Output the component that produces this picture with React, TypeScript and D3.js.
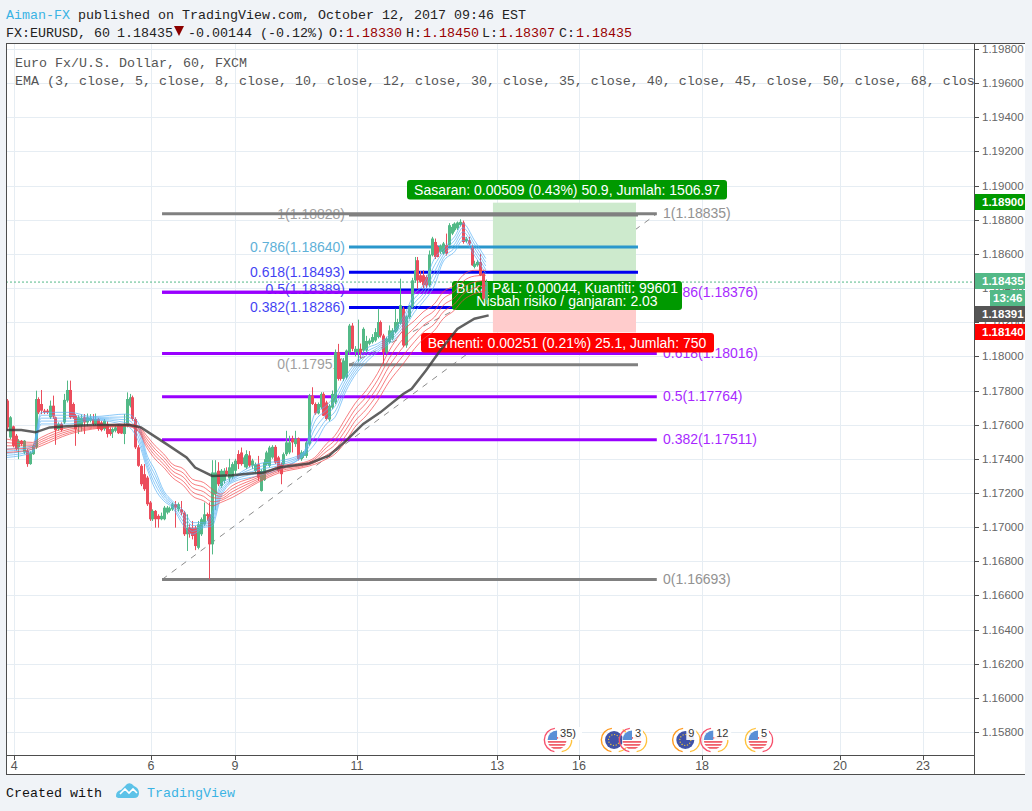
import React from "react";
import * as d3 from "d3";

const W = 1032;
const H = 811;

// prices are kept in points above 1.0 (17600 = 1.17600)
const opens = [17741,17525,17590,17535,17467,17506,17437,17447,17369,17427,17467,17750,17721,17682,17682,17643,17711,17643,17574,17604,17613,17741,17803,17721,17653,17594,17594,17643,17613,17623,17633,17604,17633,17613,17574,17604,17574,17555,17564,17594,17594,17545,17594,17711,17760,17633,17467,17359,17310,17290,17144,17046,17095,17066,17046,17046,17085,17095,17104,17134,17104,17104,17085,16958,16997,16997,16997,16879,16958,17016,17075,17075,16899,17193,17330,17240,17270,17330,17285,17291,17330,17428,17437,17369,17349,17420,17360,17329,17368,17212,17275,17368,17359,17408,17470,17408,17368,17368,17427,17437,17519,17486,17521,17398,17417,17417,17486,17770,17721,17666,17701,17780,17730,17630,17700,17730,18024,17965,17868,17877,18024,18180,18024,18024,18044,18034,18034,18074,18083,18093,18113,18201,18122,18024,18083,18103,18142,18162,18191,18279,18064,18230,18289,18445,18563,18475,18475,18465,18416,18592,18670,18641,18612,18602,18651,18651,18719,18739,18749,18768,18784,18674,18680,18635,18524,18533,18553,18484,18330];
const highs = [17750,17650,17594,17545,17515,17510,17510,17457,17443,17486,17799,17760,17803,17692,17692,17741,17770,17647,17613,17613,17780,17858,17858,17730,17662,17655,17660,17662,17665,17662,17662,17665,17640,17623,17633,17620,17584,17584,17594,17604,17600,17662,17789,17780,17770,17643,17480,17369,17369,17300,17153,17104,17100,17075,17085,17124,17124,17120,17144,17153,17144,17153,17095,17075,17016,17036,17007,17036,17056,17144,17085,17144,17392,17392,17380,17340,17345,17350,17400,17380,17400,17450,17466,17420,17450,17445,17400,17378,17417,17339,17398,17447,17476,17480,17480,17417,17378,17437,17564,17535,17535,17564,17525,17450,17445,17505,17780,17819,17730,17730,17790,17790,17740,17720,17800,18040,18073,17985,17990,18040,18190,18195,18060,18215,18075,18170,18120,18105,18130,18165,18279,18210,18132,18115,18181,18165,18279,18220,18455,18290,18240,18300,18460,18582,18582,18500,18504,18475,18620,18700,18690,18650,18655,18670,18719,18780,18775,18785,18790,18803,18795,18700,18700,18650,18560,18565,18600,18490,18450];
const lows = [17564,17515,17467,17447,17398,17476,17427,17353,17365,17423,17457,17662,17662,17662,17662,17633,17633,17482,17564,17560,17604,17730,17633,17633,17476,17545,17560,17545,17590,17613,17594,17594,17564,17560,17564,17525,17535,17522,17555,17545,17545,17486,17584,17701,17623,17457,17353,17240,17212,17124,17036,17036,16997,16997,17040,17040,17075,17085,17095,16997,17090,17070,16948,16860,16938,16928,16865,16870,16948,17007,17036,16694,16840,17100,17240,17230,17255,17300,17265,17280,17310,17340,17360,17350,17340,17350,17340,17320,17271,17208,17270,17360,17350,17400,17370,17320,17251,17359,17417,17427,17437,17470,17390,17388,17405,17405,17476,17715,17658,17660,17690,17650,17625,17620,17690,17720,17858,17858,17855,17865,18010,18030,18000,17965,17990,18020,18020,18065,18075,18085,18105,18110,17956,18015,18075,18095,18135,18150,18185,18054,18050,18220,18280,18430,18396,18430,18400,18400,18405,18585,18570,18580,18600,18595,18590,18645,18710,18730,18740,18760,18660,18665,18650,18530,18515,18525,18470,18330,18307];
const closes = [17584,17643,17476,17457,17506,17486,17506,17369,17437,17476,17750,17672,17682,17672,17672,17711,17647,17568,17604,17568,17745,17803,17643,17643,17574,17643,17640,17613,17643,17640,17604,17633,17574,17568,17623,17545,17545,17574,17584,17550,17548,17604,17750,17760,17633,17467,17359,17251,17222,17134,17046,17095,17046,17046,17066,17114,17114,17110,17134,17114,17134,17085,16958,16997,16962,16948,16889,17016,17046,17075,17065,16899,17320,17320,17251,17330,17330,17310,17350,17369,17389,17369,17369,17408,17428,17360,17390,17368,17290,17329,17378,17437,17466,17470,17378,17329,17310,17427,17496,17496,17496,17515,17398,17437,17437,17496,17770,17721,17666,17721,17780,17652,17633,17710,17780,18024,17868,17868,17975,18034,18180,18044,18044,18044,18024,18161,18090,18093,18113,18142,18201,18122,18024,18103,18152,18152,18201,18201,18299,18064,18234,18289,18445,18504,18445,18436,18416,18416,18596,18690,18582,18582,18647,18661,18602,18768,18758,18778,18784,18788,18670,18690,18660,18533,18543,18553,18475,18338,18435];

const emaBars = [0,9,12,22,30,42,46,49,52,55,58,62,65,69,72,75,79,88,96,104,108,112,115,119,122,126,130,134,139,143,146,150,153,157,160,164,168];
const blue1 = [17457,17476,17672,17672,17647,17662,17613,17428,17330,17212,17154,17095,17026,17026,17085,17251,17290,17370,17388,17437,17662,17711,17770,17887,17956,18044,18074,18122,18230,18367,18416,18573,18631,18700,18778,18680,18573];
const blue2 = [17445,17466,17655,17655,17642,17645,17586,17408,17303,17197,17144,17073,17009,17018,17065,17231,17282,17352,17375,17432,17618,17684,17738,17865,17938,18024,18061,18110,18210,18340,18391,18533,18611,18678,18753,18658,18551];
const blue3 = [17432,17456,17638,17638,17637,17628,17560,17388,17276,17183,17134,17051,16992,17011,17046,17212,17275,17335,17363,17427,17574,17657,17706,17843,17921,18004,18049,18098,18191,18313,18367,18494,18592,18656,18729,18636,18529];
const blue4 = [17420,17446,17621,17621,17632,17611,17533,17368,17249,17168,17124,17029,16975,17004,17026,17192,17268,17317,17351,17422,17530,17630,17674,17821,17904,17984,18037,18086,18171,18286,18342,18455,18572,18634,18704,18614,18507];
const blue5 = [17408,17437,17604,17604,17627,17594,17506,17349,17222,17154,17115,17007,16958,16997,17007,17173,17261,17300,17339,17417,17486,17603,17642,17799,17887,17965,18025,18074,18152,18260,18318,18416,18553,18612,18680,18592,18485];
const red1 = [17515,17496,17525,17584,17594,17604,17594,17535,17476,17428,17369,17340,17281,17261,17222,17193,17242,17300,17359,17378,17408,17486,17535,17642,17721,17800,17900,18030,18152,18210,18260,18308,18377,18416,18475,18504,18504];
const red2 = [17495,17486,17512,17574,17589,17600,17586,17518,17456,17408,17350,17315,17256,17234,17198,17180,17224,17290,17349,17370,17398,17464,17508,17607,17686,17763,17860,17985,18103,18168,18220,18269,18337,18380,18438,18470,18475];
const red3 = [17476,17476,17500,17564,17584,17597,17579,17501,17437,17388,17330,17291,17232,17207,17173,17168,17207,17280,17339,17363,17388,17442,17481,17573,17652,17726,17820,17940,18054,18127,18180,18230,18298,18343,18401,18435,18445];
const red4 = [17456,17466,17488,17554,17579,17593,17571,17484,17418,17368,17310,17266,17207,17180,17148,17156,17190,17270,17330,17356,17378,17420,17454,17539,17618,17689,17780,17895,18005,18086,18140,18191,18259,18306,18364,18401,18415];
const red5 = [17437,17457,17476,17545,17574,17590,17564,17467,17398,17349,17291,17242,17183,17154,17124,17144,17173,17261,17320,17349,17368,17398,17427,17505,17584,17652,17740,17850,17956,18045,18100,18152,18220,18270,18328,18367,18386];

const slowBars = [0,5,10,15,21,30,36,43,47,56,63,66,72,79,90,96,106,113,119,125,131,139,142,147,152,158,164,169];
const slowEma = [17568,17568,17555,17584,17590,17598,17598,17598,17584,17486,17408,17349,17300,17304,17320,17350,17373,17418,17506,17604,17672,17780,17810,17917,18034,18161,18220,18240];

const priceTicks = d3.range(1.158, 1.1981, 0.002);
const dayLabels = ["4", "6", "9", "11", "13", "16", "18", "20", "23"];
const dayBars = [2.5, 50.5, 80, 122.8, 172, 200.7, 243.9, 292.3, 321.4];

const outerLevels = ["1", "0.786", "0.618", "0.5", "0.382", "0"];
const outerValues = [1.18835, 1.18376, 1.18016, 1.17764, 1.17511, 1.16693];
const outerColors = ["#808080", "#9900ff", "#9900ff", "#9900ff", "#9900ff", "#808080"];
const innerLevels = ["1", "0.786", "0.618", "0.5", "0.382", "0"];
const innerValues = [1.18828, 1.1864, 1.18493, 1.18389, 1.18286, 1.17951];
const innerColors = ["#808080", "#2a97cc", "#0000f0", "#0000f0", "#0000f0", "#808080"];

const eventBars = [193, 213, 219.3, 238, 247.8, 263.5];
const eventKinds = ["us", "eu", "us", "eu", "us", "us"];
const eventCounts = ["35)", "", "3", "9", "12", "5"];

const x = d3.scaleLinear().domain([0, 168]).range([7, 485.8]);
const y = d3.scaleLinear().domain([1.158, 1.198]).range([732, 49]);
const py = (v: number) => y(1 + v / 100000);

const UP = "#53b987";
const DOWN = "#eb4d5c";
const GRID = "#e6edf3";
const AXIS = "#4d4d4d";
const SANS = "'Liberation Sans', Arial, sans-serif";
const MONO = "'Liberation Mono', monospace";
const PLOT_L = 6;
const PLOT_R = 974;
const PLOT_T = 43;
const PLOT_B = 755;

const emaLine = (bars: number[], vals: number[], curve: d3.CurveFactory = d3.curveMonotoneX) =>
  d3
    .line<number>()
    .x((_, i) => x(bars[i]))
    .y((v) => py(v))
    .curve(curve)(vals) as string;

const arc = d3.arc();

function EventIcon({ bar, kind, count, index }: { bar: number; kind: string; count: string; index: number }) {
  const cx = x(bar);
  const cy = 740;
  const id = "flag" + index;
  const leftRing = kind === "eu" ? "#ff9a1f" : index === 5 ? "#ffc23d" : "#f7516c";
  const rightRing = index === 5 ? "#f7516c" : "#ffc23d";
  return (
    <g>
      <clipPath id={id}>
        <circle cx={cx} cy={cy} r={9.5} />
      </clipPath>
      <circle cx={cx} cy={cy} r={10} fill="#fff" />
      {kind === "us" ? (
        <g clipPath={`url(#${id})`}>
          {[0, 1, 2].map((s) => (
            <rect key={s} x={cx - 10} y={cy + 1 + s * 3} width={20} height={1.8} fill="#f0616d" />
          ))}
          <rect x={cx - 10} y={cy - 10} width={10} height={10} fill="#5b8fd6" />
          <rect x={cx} y={cy - 3} width={10} height={1.8} fill="#f0616d" />
        </g>
      ) : (
        <g>
          <circle cx={cx} cy={cy} r={9} fill="#3f51a8" />
          <circle cx={cx} cy={cy} r={5.5} fill="none" stroke="#e8c33a" strokeWidth={1.2} strokeDasharray="1.2 1.6" />
        </g>
      )}
      <path
        transform={`translate(${cx - 1},${cy})`}
        d={arc({ innerRadius: 11, outerRadius: 12.4, startAngle: -3.0, endAngle: -0.1 }) as string}
        fill={leftRing}
      />
      <path
        transform={`translate(${cx + 3},${cy})`}
        d={arc({ innerRadius: 11, outerRadius: 12.4, startAngle: 0.5, endAngle: 3.0 }) as string}
        fill={rightRing}
      />
      {count && (
        <g>
          <rect x={cx + 1} y={cy - 13} width={count.length * 7 + 3} height={13} fill="#fff" opacity={0.9} />
          <text x={cx + 3} y={cy - 3} fontFamily={SANS} fontSize={11} fill="#333">
            {count}
          </text>
        </g>
      )}
    </g>
  );
}

export default function App() {
  const tradeText = { fontFamily: SANS, fontSize: 14, fill: "#fff", textAnchor: "middle" as const };
  const red = "#990000";
  return (
    <svg width={W} height={H} style={{ position: "absolute", left: 0, top: 0, display: "block" }}>
      <rect width={W} height={H} fill="#f0f3f7" />

      {/* header */}
      <g fontFamily={MONO} fontSize={13.33} fill="#222">
        <text x={6} y={19}>
          <tspan fill="#3bb3e4">Aiman-FX</tspan> published on TradingView.com, October 12, 2017 09:46 EST
        </text>
        <text x={6} y={37}>FX:EURUSD, 60</text>
        <text x={117} y={37}>1.18435</text>
        <path d="M174,26 L184,26 L179,36 Z" fill="#8b0000" />
        <text x={188} y={37}>-0.00144 (-0.12%)</text>
        <text x={329} y={37}>O:</text>
        <text x={346} y={37} fill={red}>1.18330</text>
        <text x={406} y={37}>H:</text>
        <text x={423} y={37} fill={red}>1.18450</text>
        <text x={482} y={37}>L:</text>
        <text x={499} y={37} fill={red}>1.18307</text>
        <text x={559} y={37}>C:</text>
        <text x={576} y={37} fill={red}>1.18435</text>
      </g>

      {/* panes */}
      <rect x={PLOT_L} y={PLOT_T} width={1025 - PLOT_L} height={774 - PLOT_T} fill="#fff" />
      <clipPath id="plot">
        <rect x={PLOT_L + 1} y={PLOT_T + 1} width={PLOT_R - PLOT_L - 1} height={PLOT_B - PLOT_T - 1} />
      </clipPath>

      <g stroke={GRID} strokeWidth={1}>
        {priceTicks.map((p) => (
          <line key={p} x1={PLOT_L} x2={PLOT_R} y1={Math.round(y(p)) + 0.5} y2={Math.round(y(p)) + 0.5} />
        ))}
        {dayBars.map((b) => (
          <line key={b} x1={Math.round(x(b)) + 0.5} x2={Math.round(x(b)) + 0.5} y1={PLOT_T} y2={PLOT_B} />
        ))}
      </g>

      <g clipPath="url(#plot)">
        {/* legend */}
        <g fontFamily={MONO} fontSize={13.33} fill="#555">
          <text x={15} y={67}>Euro Fx/U.S. Dollar, 60, FXCM</text>
          <text x={15} y={85}>
            EMA (3, close, 5, close, 8, close, 10, close, 12, close, 30, close, 35, close, 40, close, 45, close, 50, close, 68, close, 200, close)
          </text>
        </g>

        <line x1={PLOT_L} x2={PLOT_R} y1={y(1.18435)} y2={y(1.18435)} stroke={UP} strokeDasharray="2 2" />

        {/* trend lines */}
        <line x1={x(54.4)} y1={y(outerValues[5])} x2={x(228)} y2={y(outerValues[0])} stroke="#8c8c8c" strokeDasharray="6 6" />
        <line x1={x(120)} y1={y(innerValues[5])} x2={x(221.4)} y2={y(innerValues[0])} stroke="#8c8c8c" strokeDasharray="6 6" />

        {/* risk / reward boxes */}
        <rect x={x(170.5)} y={y(1.189)} width={x(220.7) - x(170.5)} height={y(1.18435) - y(1.189)} fill="#cdeacd" />
        <rect x={x(170.5)} y={y(1.18435)} width={x(220.7) - x(170.5)} height={y(1.1814) - y(1.18435)} fill="#ffcccc" />

        {/* retracement levels */}
        {outerValues.map((v, i) => (
          <g key={outerLevels[i] + v}>
            <line x1={x(54.4)} x2={x(228)} y1={y(v)} y2={y(v)} stroke={outerColors[i]} strokeWidth={3} />
            <text x={663} y={y(v) + 4.5} fontFamily={SANS} fontSize={14} fill={outerColors[i]} opacity={0.85}>
              {outerLevels[i]}({v.toFixed(5)})
            </text>
          </g>
        ))}
        {innerValues.map((v, i) => (
          <g key={innerLevels[i] + v}>
            <text x={345} y={y(v) + 4.5} textAnchor="end" fontFamily={SANS} fontSize={14} fill={innerColors[i]} opacity={0.75}>
              {innerLevels[i]}({v.toFixed(5)})
            </text>
            <line x1={x(120)} x2={x(221.4)} y1={y(v)} y2={y(v)} stroke={innerColors[i]} strokeWidth={3} />
          </g>
        ))}
        <line x1={x(54.4)} x2={x(228)} y1={y(1.18376)} y2={y(1.18376)} stroke="#9900ff" strokeWidth={3} />

        {/* trade labels */}
        <rect x={407} y={180} width={320} height={19.5} rx={3} fill="#009900" />
        <text x={567} y={194.5} {...tradeText}>Sasaran: 0.00509 (0.43%) 50.9, Jumlah: 1506.97</text>
        <rect x={452} y={281} width={230} height={29} rx={3} fill="#009900" />
        <text x={567} y={293} {...tradeText}>Buka P&amp;L: 0.00044, Kuantiti: 99601</text>
        <text x={567} y={306} {...tradeText}>Nisbah risiko / ganjaran: 2.03</text>
        <rect x={421} y={333} width={293} height={19.5} rx={3} fill="#ff0000" />
        <text x={567} y={347.5} {...tradeText}>Berhenti: 0.00251 (0.21%) 25.1, Jumlah: 750</text>

        {/* candles */}
        {opens.map((o, i) => {
          const c = closes[i];
          const col = c >= o ? UP : DOWN;
          const top = py(Math.max(o, c));
          const bot = py(Math.min(o, c));
          const cx = Math.round(x(i));
          return (
            <g key={i}>
              <line x1={cx + 0.5} x2={cx + 0.5} y1={py(highs[i])} y2={py(lows[i])} stroke={col} />
              <rect x={cx - 1} y={top} width={3} height={Math.max(bot - top, 1)} fill={col} />
            </g>
          );
        })}

        {/* moving averages */}
        <g fill="none" strokeWidth={1}>
          {[blue1, blue2, blue3, blue4, blue5].map((s, i) => (
            <path key={"b" + i} d={emaLine(emaBars, s)} stroke="#5ab2f5" opacity={0.7} />
          ))}
          {[red1, red2, red3, red4, red5].map((s, i) => (
            <path key={"r" + i} d={emaLine(emaBars, s)} stroke="#f4464a" opacity={0.7} />
          ))}
          <path d={emaLine(slowBars, slowEma, d3.curveLinear)} stroke="#3a3a3a" strokeWidth={2.5} opacity={0.8} />
        </g>

        {/* economic events */}
        {eventBars.map((b, i) => (
          <EventIcon key={i} bar={b} kind={eventKinds[i]} count={eventCounts[i]} index={i} />
        ))}
      </g>

      {/* frame */}
      <g stroke={AXIS} fill="none">
        <line x1={PLOT_L + 0.5} x2={PLOT_L + 0.5} y1={PLOT_T} y2={774} />
        <line x1={PLOT_L} x2={1025} y1={PLOT_T + 0.5} y2={PLOT_T + 0.5} />
        <line x1={PLOT_L} x2={1025} y1={774.5} y2={774.5} />
        <line x1={PLOT_L} x2={PLOT_R} y1={PLOT_B + 0.5} y2={PLOT_B + 0.5} />
        <line x1={PLOT_R + 0.5} x2={PLOT_R + 0.5} y1={PLOT_T} y2={774} />
      </g>

      {/* price axis */}
      {priceTicks.map((p) => (
        <g key={"t" + p}>
          <line x1={PLOT_R} x2={PLOT_R + 5} y1={Math.round(y(p)) + 0.5} y2={Math.round(y(p)) + 0.5} stroke={AXIS} />
          <text x={982} y={y(p) + 4} fontFamily={SANS} fontSize={11.5} fill="#666">
            {p.toFixed(5)}
          </text>
        </g>
      ))}

      {/* time axis */}
      {dayBars.map((b, i) => (
        <g key={"d" + b}>
          <line x1={Math.round(x(b)) + 0.5} x2={Math.round(x(b)) + 0.5} y1={PLOT_B} y2={PLOT_B + 5} stroke={AXIS} />
          <text x={x(b)} y={770} textAnchor="middle" fontFamily={SANS} fontSize={12.5} fill="#555">
            {dayLabels[i]}
          </text>
        </g>
      ))}

      {/* price tags */}
      <g fontFamily={SANS} fontSize={11.5} fontWeight="bold" fill="#fff">
        <rect x={975} y={194} width={50} height={16} fill="#009900" />
        <text x={982} y={206}>1.18900</text>
        <rect x={975} y={273} width={50} height={16} fill={UP} />
        <text x={982} y={285}>1.18435</text>
        <rect x={990} y={290} width={35} height={16} fill={UP} />
        <text x={993} y={302}>13:46</text>
        <rect x={975} y={306} width={50} height={16} fill="#555" />
        <text x={982} y={318}>1.18391</text>
        <rect x={975} y={324} width={50} height={16} fill="#ff0000" />
        <text x={982} y={336}>1.18140</text>
      </g>

      {/* footer */}
      <text x={6} y={797} fontFamily={MONO} fontSize={13.33} fill="#111">Created with</text>
      <path
        d="M116,796 Q116,791 121,790 L127,784 Q131,782 134,786 Q139,788 139,793 Q139,798 134,798 L120,798 Q116,798 116,796 Z"
        fill="#5cc2e8"
      />
      <path d="M120,794 L125,789 L129,793 L133,789 L137,793" fill="none" stroke="#fff" strokeWidth={1.6} />
      <text x={147} y={797} fontFamily={MONO} fontSize={13.33} fill="#3bb3e4">TradingView</text>
    </svg>
  );
}
